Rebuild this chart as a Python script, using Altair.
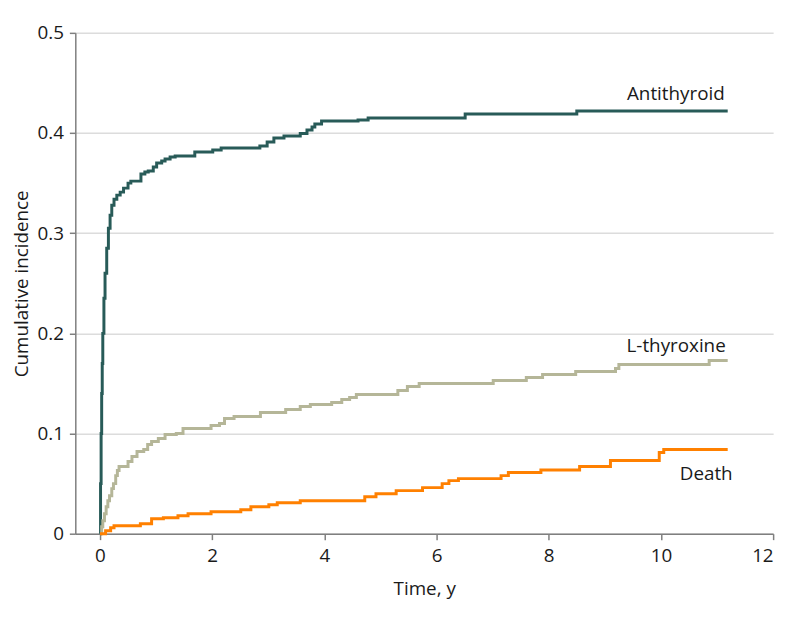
import altair as alt
import pandas as pd

# ---- data ----
series_names = ["Antithyroid", "L-thyroxine", "Death"]
series_colors = ["#285b58", "#b5b698", "#ff8000"]

anti_time = [0, 0.01, 0.02, 0.03, 0.04, 0.05, 0.07, 0.09, 0.12, 0.15, 0.18, 0.21, 0.25,
             0.30, 0.36, 0.42, 0.50, 0.55, 0.73, 0.80, 0.86, 0.95, 1.01, 1.10, 1.16, 1.25,
             1.34, 1.69, 2.01, 2.16, 2.85, 2.98, 3.10, 3.28, 3.57, 3.69, 3.78, 3.83, 3.95,
             4.60, 4.78, 6.51, 8.50, 11.19]
anti_inc = [0, 0.05, 0.10, 0.14, 0.17, 0.20, 0.235, 0.26, 0.285, 0.305, 0.318, 0.328, 0.334,
            0.338, 0.341, 0.345, 0.350, 0.352, 0.359, 0.361, 0.362, 0.366, 0.370, 0.372, 0.374, 0.376,
            0.377, 0.381, 0.383, 0.385, 0.387, 0.391, 0.395, 0.397, 0.3995, 0.403, 0.406, 0.409, 0.412,
            0.413, 0.415, 0.419, 0.422, 0.422]

lthy_time = [0, 0.03, 0.05, 0.08, 0.11, 0.14, 0.17, 0.21, 0.24, 0.28, 0.31, 0.34, 0.50, 0.57,
             0.66, 0.78, 0.85, 0.92, 1.04, 1.16, 1.36, 1.48, 1.98, 2.13, 2.22, 2.39, 2.86, 3.31,
             3.57, 3.75, 4.13, 4.31, 4.45, 4.57, 5.31, 5.48, 5.69, 7.01, 7.60, 7.89, 8.48, 9.19,
             9.25, 10.86, 11.19]
lthy_inc = [0, 0.007, 0.013, 0.020, 0.027, 0.033, 0.038, 0.045, 0.050, 0.058, 0.063, 0.067, 0.072, 0.077,
            0.082, 0.084, 0.089, 0.092, 0.095, 0.099, 0.100, 0.105, 0.108, 0.110, 0.115, 0.117, 0.121, 0.124,
            0.127, 0.129, 0.131, 0.134, 0.136, 0.139, 0.143, 0.147, 0.150, 0.153, 0.156, 0.159, 0.162, 0.165,
            0.169, 0.173, 0.173]

death_time = [0, 0.10, 0.19, 0.25, 0.72, 0.92, 1.13, 1.39, 1.57, 1.98, 2.51, 2.69, 3.01, 3.16,
              3.57, 4.72, 4.92, 5.28, 5.75, 6.10, 6.22, 6.39, 7.15, 7.28, 7.86, 8.55, 9.10, 9.97,
              10.05, 11.19]
death_inc = [0, 0.003, 0.006, 0.008, 0.010, 0.015, 0.016, 0.018, 0.020, 0.022, 0.024, 0.027, 0.029, 0.031,
             0.033, 0.037, 0.040, 0.043, 0.046, 0.050, 0.053, 0.055, 0.058, 0.061, 0.0635, 0.067, 0.073, 0.081,
             0.084, 0.084]

x_ticks = [0, 2, 4, 6, 8, 10, 12]
y_ticks = [0, 0.1, 0.2, 0.3, 0.4, 0.5]

# ---- build table ----
rows = []
for name, ts, vs in zip(series_names, [anti_time, lthy_time, death_time], [anti_inc, lthy_inc, death_inc]):
    for t, v in zip(ts, vs):
        rows.append({"series": name, "time": t, "inc": v})
df = pd.DataFrame(rows)

last = pd.DataFrame([{"series": n, "time": ts[-1], "inc": vs[-1]} for n, ts, vs in
                     zip(series_names, [anti_time, lthy_time, death_time], [anti_inc, lthy_inc, death_inc])])

FONT = "Open Sans"
FS = 19

x_enc = alt.X("time:Q",
              scale=alt.Scale(domain=[-0.44, 12], nice=False, zero=False),
              axis=alt.Axis(values=x_ticks, title="Time, y", grid=False, format="d"))
y_enc = alt.Y("inc:Q",
              scale=alt.Scale(domain=[0, 0.5], nice=False),
              axis=alt.Axis(values=y_ticks, title="Cumulative incidence", grid=True,
                            labelExpr="datum.value == 0 ? '0' : format(datum.value, '.1f')"))
color_enc = alt.Color("series:N", scale=alt.Scale(domain=series_names, range=series_colors), legend=None)

lines = alt.Chart(df).mark_line(interpolate="step-after", strokeWidth=3, strokeCap="butt").encode(
    x=x_enc, y=y_enc, color=color_enc, detail="series:N")

label_offsets = {"Antithyroid": (-3, -11), "L-thyroxine": (-2, -8), "Death": (5, 31)}
texts = []
for n in series_names:
    dx, dy = label_offsets[n]
    texts.append(alt.Chart(last).transform_filter(alt.datum.series == n).mark_text(
        align="right", baseline="alphabetic", fontSize=FS, font=FONT, color="#1a1a1a", dx=dx, dy=dy
    ).encode(x="time:Q", y="inc:Q", text="series:N"))

chart = alt.layer(lines, *texts).properties(
    width=705, height=506,
    autosize=alt.AutoSizeParams(type="none"),
    padding={"left": 68, "top": 22, "right": 13, "bottom": 78},
).configure_view(stroke=None).configure_axis(
    labelFont=FONT, titleFont=FONT, labelFontSize=FS, titleFontSize=FS,
    labelColor="#1a1a1a", titleColor="#1a1a1a", titleFontWeight="normal",
    domainColor="#7f7f7f", domainWidth=1.5, tickColor="#7f7f7f", tickWidth=1.5, tickSize=6,
    gridColor="#dcdcdc", gridWidth=1.5,
).configure_axisX(labelPadding=7, titlePadding=14).configure_axisY(labelPadding=6, titlePadding=6)

chart.save("out.html", embed_options={"renderer": "svg", "actions": False})
